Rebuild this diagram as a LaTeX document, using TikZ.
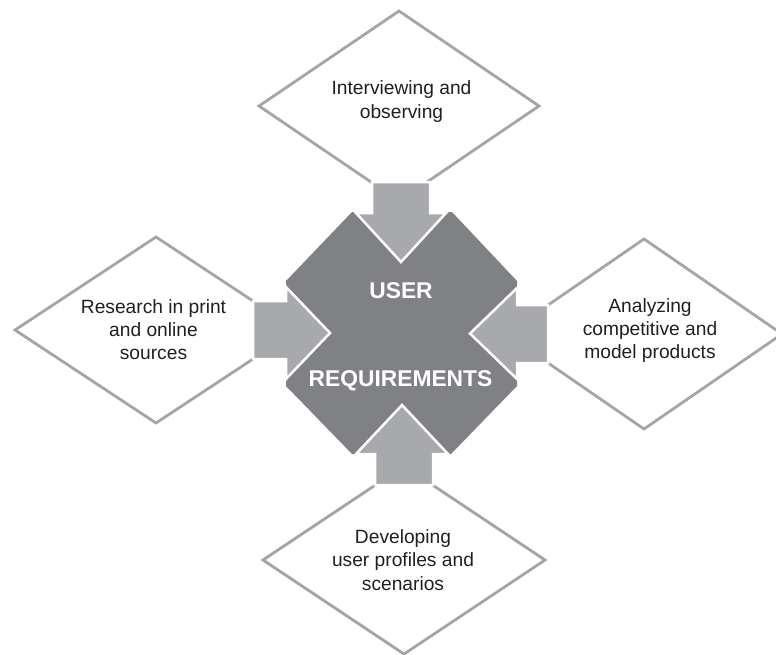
\documentclass[tikz,border=0pt]{standalone}
\usepackage{fontspec}
\setmainfont{Liberation Sans}
\usetikzlibrary{shapes.geometric}

\definecolor{hubgray}{HTML}{808184}
\definecolor{arrowgray}{HTML}{A7A9AC}
\definecolor{edgegray}{HTML}{A3A5A8}
\definecolor{ink}{HTML}{231F20}

\tikzset{
  source/.style n args={2}{diamond, draw=edgegray, line width=2.8pt, fill=white,
    inner sep=0pt, outer sep=0pt, minimum width=#1, minimum height=#2},
  sourcetext/.style={inner sep=0pt, align=center, text=ink,
    font=\fontsize{19.2}{23.2}\selectfont},
  hubtext/.style={inner sep=0pt, anchor=base, text=white,
    font=\fontsize{22.8}{26}\selectfont\bfseries},
  hub/.style={fill=hubgray},
  blockarrow/.style={fill=arrowgray, draw=white, line width=2.5pt, line join=miter},
}

\begin{document}
\begin{tikzpicture}[x=1pt, y=-1pt]
  \useasboundingbox (0,0) rectangle (776,654);
  \clip (0,0) rectangle (776,654);

  % the four sources of requirements
  \node[source={280}{190}] (interview) at (399,106) {};
  \node[source={282}{186}] (research)  at (156,330) {};
  \node[source={276}{190}] (analyze)   at (644,334) {};
  \node[source={282}{188}] (develop)   at (404,560) {};

  % central hub
  \coordinate (hubc) at (401,333);
  \path[hub] (352,212) -- (452,212) -- (517,281) -- (517,386)
    -- (451,454) -- (352,454) -- (286,386) -- (286,281) -- cycle;

  % block arrows feeding the hub
  \path[blockarrow] (372,182) -- (430,182) -- (430,213) -- (446,213)
    -- (401,262) -- (356,213) -- (372,213) -- cycle;
  \path[blockarrow] (253,301) -- (286,301) -- (286,287) -- (330,333)
    -- (286,379) -- (286,359) -- (253,359) -- cycle;
  \path[blockarrow] (548,305) -- (517,305) -- (517,288) -- (470,333.5)
    -- (517,379) -- (517,363) -- (548,363) -- cycle;
  \path[blockarrow] (375,485) -- (433,485) -- (433,454) -- (448,454)
    -- (402,405) -- (356,454) -- (375,454) -- cycle;

  % labels
  \node[sourcetext] (interviewtxt) at (401.5,101.6) {Interviewing and\\observing};
  \node[sourcetext] (researchtxt)  at (153.5,329.8) {Research in print\\and online\\sources};
  \node[sourcetext] (analyzetxt)   at (650,330.4)   {Analyzing\\competitive and\\model products};
  \node[sourcetext] (developtxt)   at (403,560.1)   {Developing\\user profiles and\\scenarios};

  \node[hubtext] (user) at (401,298.3) {USER};
  \node[hubtext] (req)  at (400.5,386.7) {REQUIREMENTS};
\end{tikzpicture}
\end{document}
